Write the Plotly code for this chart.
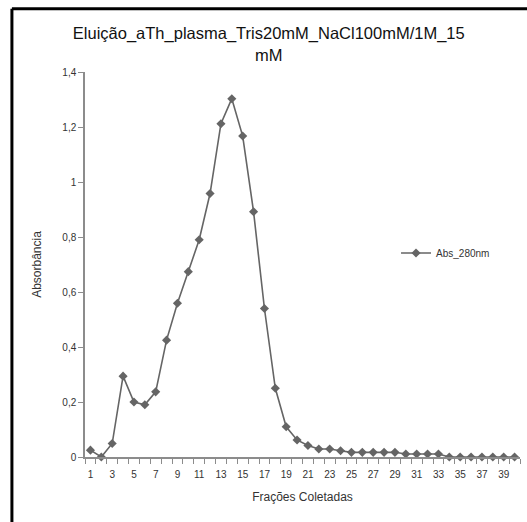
import plotly.graph_objects as go

fractions = list(range(1, 41))
abs_280 = [0.025, 0.0, 0.049, 0.294, 0.20, 0.19, 0.237, 0.425, 0.559, 0.674,
           0.79, 0.958, 1.212, 1.303, 1.167, 0.892, 0.54, 0.25, 0.11, 0.062,
           0.042, 0.029, 0.029, 0.023, 0.017, 0.017, 0.017, 0.017, 0.017, 0.011,
           0.011, 0.011, 0.011, 0.0, 0.0, 0.0, 0.0, 0.0, 0.0, 0.0]
x_labels = [str(v) for v in range(1, 41, 2)]
y_ticks = [0, 0.2, 0.4, 0.6, 0.8, 1.0, 1.2, 1.4]
y_labels = ["0", "0,2", "0,4", "0,6", "0,8", "1", "1,2", "1,4"]

font = "Liberation Sans"
fig = go.Figure()
fig.add_trace(go.Scatter(
    x=fractions, y=abs_280, mode="lines+markers", name="Abs_280nm",
    line=dict(color="#656565", width=1.6),
    marker=dict(symbol="diamond", size=7, color="#656565"),
    cliponaxis=False,
))

fig.update_layout(
    width=527, height=522,
    margin=dict(l=85, r=7, t=72, b=65),
    paper_bgcolor="white", plot_bgcolor="white",
    title=dict(text="Eluição_aTh_plasma_Tris20mM_NaCl100mM/1M_15<br>mM",
               x=0.51, xanchor="center", y=0.925, yanchor="middle",
               font=dict(family=font, size=16.5, color="#111111")),
    showlegend=True,
    legend=dict(x=0.715, y=0.53, xanchor="left", yanchor="middle",
                bgcolor="rgba(0,0,0,0)",
                font=dict(family=font, size=10, color="#333333")),
    xaxis=dict(range=[0.5, 40.5], tickmode="array", tickvals=list(range(1, 41, 2)),
               ticktext=x_labels, ticks="", showgrid=False, zeroline=False,
               showline=True, linecolor="#8c8c8c", linewidth=1.5,
               ticklabelstandoff=7,
               tickfont=dict(family=font, size=10, color="#333333"),
               minor=dict(tickmode="array", tickvals=[v + 0.5 for v in range(0, 41)],
                          ticks="outside", ticklen=5, tickcolor="#8c8c8c", tickwidth=1,
                          showgrid=False),
               title=dict(text="Frações Coletadas", standoff=14,
                          font=dict(family=font, size=12, color="#333333"))),
    yaxis=dict(range=[0, 1.4], tickmode="array", tickvals=y_ticks, ticktext=y_labels,
               ticks="outside", ticklen=5, tickcolor="#8c8c8c", showgrid=False,
               zeroline=False, showline=True, linecolor="#8c8c8c", linewidth=1.5,
               tickfont=dict(family=font, size=10, color="#333333"),
               title=dict(text="Absorbância", standoff=18,
                          font=dict(family=font, size=12, color="#333333"))),
    shapes=[
        dict(type="line", xref="paper", yref="paper", x0=-0.168, x1=1.2, y0=1.164, y1=1.164,
             line=dict(color="black", width=3)),
        dict(type="line", xref="paper", yref="paper", x0=-0.168, x1=-0.168, y0=1.164, y1=-0.3,
             line=dict(color="black", width=3)),
    ],
)
fig.write_html("out.html")
